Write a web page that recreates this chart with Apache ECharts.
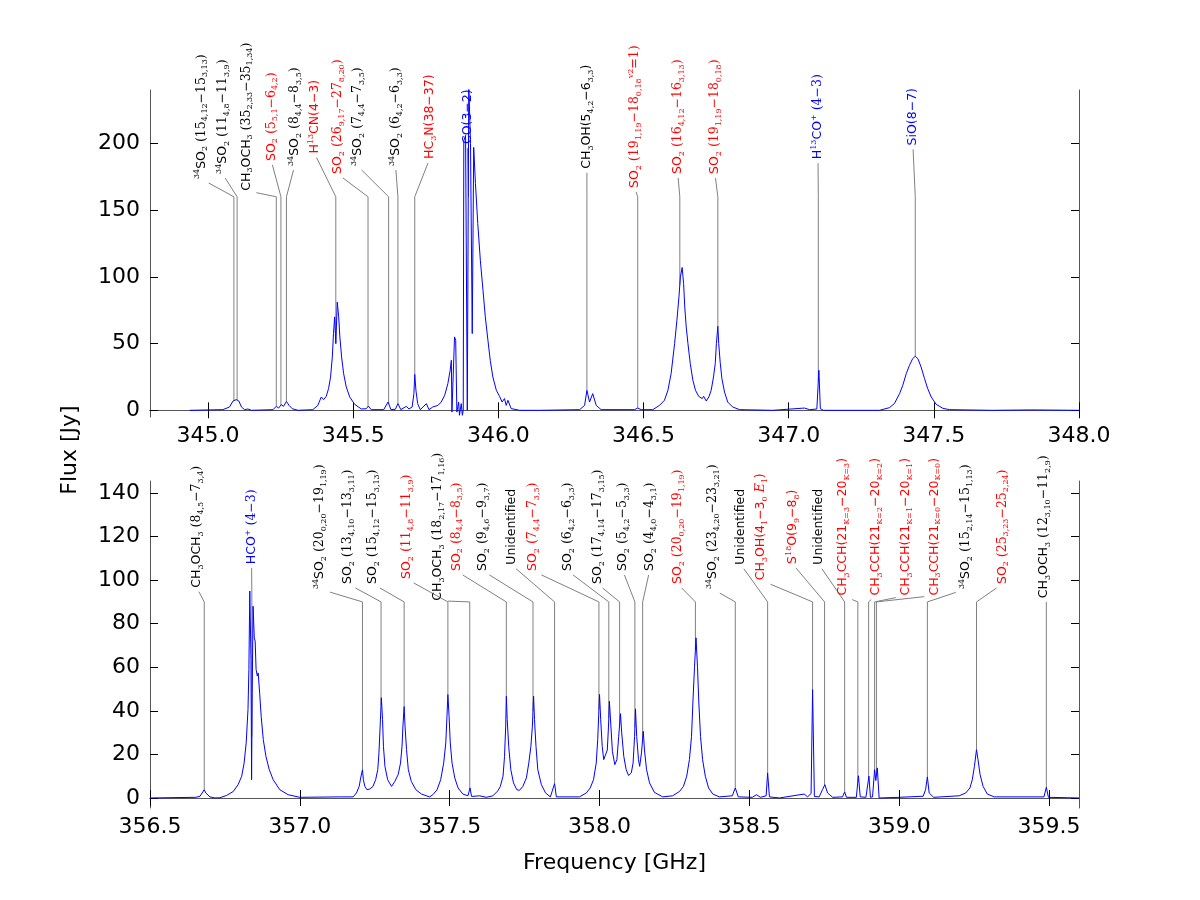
<!DOCTYPE html>
<html>
<head>
<meta charset="utf-8">
<script src="https://cdn.jsdelivr.net/npm/echarts@6/dist/echarts.min.js"></script>
<style>
  html, body { margin: 0; background: #fff; }
  #main { width: 1200px; height: 900px; }
</style>
</head>
<body>
<div id="main"></div>
<script>
// upper band spectrum, [GHz, Jy]
var specTop = [
  [344.937, 0], [345.000, 0.3], [345.051, 0.5], [345.074, 2.5], [345.086, 7], [345.097, 8], [345.106, 7],
  [345.115, 2.5], [345.126, 0.5], [345.137, 1], [345.150, 0], [345.224, 0.5], [345.235, 3], [345.243, 1.7],
  [345.252, 4.2], [345.260, 3], [345.270, 6.7], [345.279, 3.7], [345.290, 1.2], [345.310, 0], [345.361, 0.5],
  [345.378, 3.7], [345.390, 10], [345.398, 8], [345.407, 10.5], [345.415, 16.2], [345.422, 25], [345.428, 40],
  [345.432, 57.5], [345.436, 70], [345.440, 50], [345.445, 81], [345.450, 70], [345.454, 55], [345.460, 40],
  [345.467, 27.5], [345.476, 17.5], [345.488, 10], [345.505, 4.5], [345.528, 1], [345.545, 1.2], [345.552, 3.2],
  [345.562, 0.5], [345.605, 0.5], [345.620, 6.2], [345.630, 0.5], [345.645, 0.8], [345.654, 5], [345.664, 0.5],
  [345.683, 3], [345.692, 1], [345.703, 2.5], [345.709, 12.5], [345.712, 27], [345.716, 15], [345.722, 5],
  [345.731, 0.5], [345.752, 5], [345.761, 0.5], [345.774, 2.5], [345.792, 3.7], [345.803, 6.2], [345.815, 11.2],
  [345.826, 20], [345.834, 30], [345.838, 37.5], [345.840, -1.3], [345.849, 55], [345.853, 52.5], [345.857, -1.3],
  [345.863, 6.2], [345.866, -3.7], [345.872, 5], [345.876, -3.7], [345.879, 0], [345.881, 202], [345.887, 206],
  [345.893, 0], [345.898, 245], [345.904, 200], [345.910, 57.5], [345.915, 197], [345.921, 170], [345.929, 140],
  [345.938, 112], [345.947, 90], [345.955, 70], [345.964, 52.5], [345.972, 37.5], [345.981, 25], [345.993, 15],
  [346.004, 10.5], [346.013, 6.2], [346.021, 8.8], [346.027, 3.7], [346.033, 7.5], [346.044, 1.3], [346.073, 0],
  [346.142, 0], [346.280, 0.5], [346.297, 3.7], [346.305, 15], [346.314, 6.2], [346.325, 12.5], [346.337, 3.7],
  [346.354, 0.5], [346.469, 0.5], [346.480, 1.7], [346.492, 0.5], [346.532, 0.5], [346.555, 3.7], [346.572, 7.5],
  [346.584, 15], [346.595, 27.5], [346.607, 50], [346.615, 67.5], [346.622, 85], [346.627, 100], [346.633, 107],
  [346.638, 95], [346.642, 77.5], [346.647, 62.5], [346.653, 50], [346.661, 35], [346.670, 22.5], [346.679, 15],
  [346.690, 10.5], [346.702, 8.8], [346.707, 10.5], [346.716, 7], [346.725, 10], [346.733, 15], [346.741, 25],
  [346.747, 35], [346.751, 50], [346.756, 63], [346.759, 50], [346.764, 36], [346.770, 23.7], [346.779, 13.7],
  [346.790, 6.2], [346.807, 2.5], [346.831, 0.5], [346.945, 0], [347.054, 1.7], [347.072, 0.5], [347.097, 1],
  [347.104, 30], [347.109, 1.2], [347.120, 0], [347.313, 0], [347.347, 2], [347.364, 5], [347.382, 12.5],
  [347.393, 18.7], [347.405, 27.5], [347.416, 33.7], [347.427, 38.7], [347.436, 40.5], [347.445, 38.7],
  [347.456, 32.5], [347.468, 23.7], [347.479, 16.2], [347.491, 10], [347.508, 4.5], [347.531, 1.5], [347.554, 0.5],
  [347.700, 0], [347.835, 0.3], [347.840, 1.5], [347.845, 0.3], [348.000, 0]
];

// lower band spectrum, [GHz, Jy]
var specLow = [
  [356.500, 0], [356.653, 0.3], [356.667, 0.8], [356.681, 3.8], [356.686, 2.3], [356.692, 2.6], [356.700, 0.5],
  [356.717, 0], [356.733, 0.1], [356.756, 1.2], [356.778, 3], [356.794, 6.1], [356.806, 10], [356.814, 16],
  [356.821, 25.3], [356.827, 40.6], [356.830, 59], [356.833, 95], [356.837, 63.6], [356.839, 8.4], [356.841, 48],
  [356.844, 88], [356.848, 73.5], [356.851, 72], [356.854, 59], [356.858, 56], [356.861, 57.4], [356.866, 48],
  [356.871, 37.5], [356.878, 26.8], [356.887, 19], [356.898, 13], [356.911, 8.4], [356.933, 3.8], [356.961, 1.5],
  [357.000, 0.3], [357.133, 0.5], [357.178, 0.5], [357.189, 2.3], [357.198, 5.3], [357.203, 9.2], [357.209, 13],
  [357.212, 8.4], [357.217, 5.3], [357.224, 3.8], [357.233, 4.1], [357.244, 5.3], [357.253, 8.4], [357.260, 13],
  [357.264, 20.7], [357.268, 33], [357.272, 46], [357.276, 36], [357.279, 23.7], [357.284, 14.5], [357.293, 8.4],
  [357.306, 5.3], [357.317, 7.6], [357.328, 10.7], [357.336, 16], [357.341, 23.7], [357.344, 33], [357.348, 42],
  [357.351, 33], [357.356, 22.2], [357.362, 13], [357.372, 7.6], [357.387, 3.8], [357.406, 1.8], [357.433, 0.5],
  [357.444, 1.5], [357.458, 3.8], [357.470, 8.4], [357.480, 16], [357.487, 25.3], [357.491, 37.5], [357.494, 47.5],
  [357.498, 37.5], [357.502, 25.3], [357.508, 16], [357.517, 9.2], [357.528, 4.6], [357.544, 1.8], [357.561, 1],
  [357.568, 4.6], [357.573, 0.7], [357.600, 1], [357.622, 0.3], [357.644, 1], [357.661, 3.3], [357.669, 5.3],
  [357.678, 10], [357.683, 19], [357.687, 33], [357.689, 46.7], [357.692, 36], [357.697, 23.7], [357.704, 13],
  [357.713, 6.9], [357.724, 3.8], [357.733, 3.5], [357.744, 5.3], [357.756, 9.2], [357.764, 16], [357.771, 23.7],
  [357.776, 33], [357.780, 46.7], [357.783, 36], [357.788, 23.7], [357.794, 13], [357.806, 6.1], [357.820, 2.3],
  [357.836, 0.5], [357.850, 6.6], [357.856, 0.5], [357.933, 0.5], [357.956, 2.3], [357.969, 4.6], [357.980, 8.4],
  [357.989, 16], [357.994, 26.8], [358.000, 47.5], [358.004, 36], [358.009, 23.7], [358.014, 17.6], [358.020, 16.8],
  [358.026, 22], [358.030, 33], [358.033, 44.4], [358.038, 33], [358.043, 21.4], [358.051, 15.3], [358.058, 17.6],
  [358.064, 28.3], [358.070, 38.7], [358.074, 29.9], [358.081, 19.1], [358.089, 13], [358.097, 10.3],
  [358.106, 11.5], [358.112, 16], [358.117, 28.3], [358.120, 40.9], [358.124, 28.3], [358.130, 17.6],
  [358.134, 14.5], [358.140, 20.7], [358.146, 30.6], [358.150, 22], [358.157, 13], [358.167, 6.9], [358.183, 2.6],
  [358.211, 0.5], [358.244, 1], [358.267, 3], [358.280, 5.3], [358.291, 10], [358.300, 17.6], [358.307, 28.3],
  [358.312, 45], [358.317, 60], [358.322, 73.5], [358.327, 60], [358.331, 45], [358.337, 28.3], [358.344, 17.6],
  [358.353, 10], [358.364, 4.6], [358.378, 1.8], [358.400, 0.5], [358.443, 1], [358.453, 4.6], [358.463, 0.5],
  [358.510, 0.3], [358.524, 1.5], [358.537, 0.3], [358.556, 1], [358.561, 11.5], [358.567, 0.5], [358.600, 0],
  [358.683, 1.8], [358.694, 0.5], [358.706, 2], [358.711, 49.8], [358.717, 0.7], [358.733, 0.5], [358.744, 3.8],
  [358.752, 6.1], [358.761, 2.3], [358.778, 0.3], [358.811, 0.5], [358.818, 2.8], [358.824, 0.3], [358.857, 0.3],
  [358.864, 10.2], [358.870, 0.5], [358.889, 0.3], [358.899, 10], [358.904, 0.3], [358.911, 0.5], [358.918, 13],
  [358.922, 8], [358.927, 13.8], [358.933, 0], [359.000, 0.3], [359.080, 0.8], [359.088, 3.8], [359.094, 9.7],
  [359.100, 2.3], [359.115, 0.3], [359.200, 1], [359.222, 2.3], [359.236, 4.6], [359.244, 8.4], [359.251, 14.5],
  [359.258, 22.2], [359.263, 17.6], [359.270, 10.7], [359.280, 5.3], [359.294, 1.8], [359.317, 0.5],
  [359.483, 0.5], [359.491, 4.9], [359.498, 0.3], [359.600, 0]
];

// line identifications: markup _{} sub, ^{} sup, ~ serif on/off, * italic on/off
var lineFreqTop = [345.089, 345.100, 345.235, 345.251, 345.270, 345.440, 345.551, 345.622, 345.654, 345.712,
  345.897, 346.305, 346.480, 346.625, 346.756, 347.102, 347.436];
var labelFreqTop = [344.977, 345.050, 345.132, 345.218, 345.298, 345.367, 345.446, 345.515, 345.646, 345.763,
  345.893, 346.305, 346.470, 346.618, 346.746, 347.101, 347.428];
var labelTop = [
  '^{34}SO_{2}~ (15_{4,12}−15_{3,13})', '^{34}SO_{2}~ (11_{4,8}−11_{3,9})', 'CH_{3}OCH_{3}~ (35_{2,33}−35_{1,34})',
  'SO_{2}~ (5_{5,1}−6_{4,2})', '^{34}SO_{2}~ (8_{4,4}−8_{3,5})', 'H^{13}CN(4−3)', 'SO_{2}~ (26_{9,17}−27_{8,20})',
  '^{34}SO_{2}~ (7_{4,4}−7_{3,5})', '^{34}SO_{2}~ (6_{4,2}−6_{3,3})', 'HC_{3}N(38−37)', 'CO(3−2)',
  'CH_{3}OH(5_{4,2}−6_{3,3})', 'SO_{2}~ (19_{1,19}−18_{0,18}^{v2}=1)', 'SO_{2}~ (16_{4,12}−16_{3,13})',
  'SO_{2}~ (19_{1,19}−18_{0,18})', 'H^{13}CO^{+}~ (4−3)', 'SiO(8−7)'];
var colorTop = ['#000', '#000', '#000', '#f00', '#000', '#f00', '#f00', '#000', '#000', '#f00',
  '#00f', '#000', '#f00', '#f00', '#f00', '#00f', '#00f'];

var lineFreqLow = [356.681, 356.840, 357.209, 357.271, 357.348, 357.494, 357.567, 357.689, 357.778, 357.850,
  357.998, 358.031, 358.067, 358.118, 358.144, 358.320, 358.453, 358.561, 358.711, 358.751,
  358.818, 358.862, 358.898, 358.918, 358.924, 359.094, 359.258, 359.491];
var labelFreqLow = [356.656, 356.839, 357.067, 357.161, 357.244, 357.356, 357.461, 357.522, 357.611, 357.706,
  357.778, 357.894, 357.994, 358.078, 358.167, 358.261, 358.378, 358.472, 358.539, 358.644,
  358.733, 358.811, 358.922, 359.022, 359.117, 359.222, 359.344, 359.483];
var labelLow = [
  'CH_{3}OCH_{3}~ (8_{4,5}−7_{3,4})', 'HCO^{+}~ (4−3)', '^{34}SO_{2}~ (20_{0,20}−19_{1,19})',
  'SO_{2}~ (13_{4,10}−13_{3,11})', 'SO_{2}~ (15_{4,12}−15_{3,13})', 'SO_{2}~ (11_{4,8}−11_{3,9})',
  'CH_{3}OCH_{3}~ (18_{2,17}−17_{1,16})', 'SO_{2}~ (8_{4,4}−8_{3,5})', 'SO_{2}~ (9_{4,6}−9_{3,7})', 'Unidentified',
  'SO_{2}~ (7_{4,4}−7_{3,5})', 'SO_{2}~ (6_{4,2}−6_{3,3})', 'SO_{2}~ (17_{4,14}−17_{3,15})', 'SO_{2}~ (5_{4,2}−5_{3,3})',
  'SO_{2}~ (4_{4,0}−4_{3,1})', 'SO_{2}~ (20_{0,20}−19_{1,19})', '^{34}SO_{2}~ (23_{4,20}−23_{3,21})', 'Unidentified',
  'CH_{3}OH(4_{1}−3_{0} *E*_{1})', 'S^{18}O(9_{9}−8_{8})', 'Unidentified',
  'CH_{3}CCH(21_{K=3}−20_{K=3})', 'CH_{3}CCH(21_{K=2}−20_{K=2})', 'CH_{3}CCH(21_{K=1}−20_{K=1})',
  'CH_{3}CCH(21_{K=0}−20_{K=0})', '^{34}SO_{2}~ (15_{2,14}−15_{1,13})', 'SO_{2}~ (25_{3,23}−25_{2,24})',
  'CH_{3}OCH_{3}~ (12_{3,10}−11_{2,9})'];
var colorLow = ['#000', '#00f', '#000', '#000', '#000', '#f00', '#000', '#f00', '#000', '#000',
  '#f00', '#000', '#000', '#000', '#000', '#f00', '#000', '#000', '#f00', '#f00',
  '#000', '#f00', '#f00', '#f00', '#f00', '#000', '#f00', '#000'];

var xTicksTop = [345.0, 345.5, 346.0, 346.5, 347.0, 347.5, 348.0];
var yTicksTop = [0, 50, 100, 150, 200];
var xTicksLow = [356.5, 357.0, 357.5, 358.0, 358.5, 359.0, 359.5];
var yTicksLow = [0, 20, 40, 60, 80, 100, 120, 140];

var rich = {
  n: { fontFamily: 'DejaVu Sans', fontSize: 12.5, lineHeight: 16 },
  m: { fontFamily: 'DejaVu Serif', fontSize: 12.5, lineHeight: 16 },
  it: { fontFamily: 'DejaVu Serif', fontStyle: 'italic', fontSize: 12.5, lineHeight: 16 },
  sub: { fontFamily: 'DejaVu Serif', fontSize: 8, lineHeight: 9, verticalAlign: 'bottom' },
  sup: { fontFamily: 'DejaVu Serif', fontSize: 8, lineHeight: 9, verticalAlign: 'top' }
};
var fonts = {
  n: '12.5px "DejaVu Sans"', m: '12.5px "DejaVu Serif"', it: 'italic 12.5px "DejaVu Serif"',
  sub: '8px "DejaVu Serif"', sup: '8px "DejaVu Serif"'
};
var ctx = document.createElement('canvas').getContext('2d');

// turn the markup into rich text and measure its length
function prep(s) {
  var segs = [], buf = '', serif = false, ital = false, i = 0;
  function flush() {
    if (buf) segs.push([ital ? 'it' : (serif ? 'm' : 'n'), buf]);
    buf = '';
  }
  while (i < s.length) {
    var c = s[i];
    if ((c === '_' || c === '^') && s[i + 1] === '{') {
      flush();
      var j = s.indexOf('}', i);
      segs.push([c === '_' ? 'sub' : 'sup', s.slice(i + 2, j)]);
      i = j + 1;
    } else if (c === '~') { flush(); serif = !serif; i++; }
    else if (c === '*') { flush(); ital = !ital; i++; }
    else { buf += c; i++; }
  }
  flush();
  var text = '', len = 0;
  segs.forEach(function (g) {
    text += '{' + g[0] + '|' + g[1] + '}';
    ctx.font = fonts[g[0]];
    len += ctx.measureText(g[1]).width;
  });
  return { text: text, len: len };
}

// flux of the spectrum at f, for the foot of a marker line
function fluxAt(spec, f) {
  for (var k = 1; k < spec.length; k++) {
    if (spec[k][0] >= f) {
      var a = spec[k - 1], b = spec[k];
      return a[1] + (b[1] - a[1]) * (f - a[0]) / (b[0] - a[0]);
    }
  }
  return spec[spec.length - 1][1];
}

function markers(xi, yi, spec, lineFreq, labelFreq, labels, colors, lineTop, labelMid) {
  var texts = labels.map(prep);
  return {
    type: 'custom',
    xAxisIndex: xi,
    yAxisIndex: yi,
    animation: false,
    silent: true,
    data: lineFreq.map(function (f, i) { return [f, labelFreq[i], i]; }),
    renderItem: function (params, api) {
      var i = api.value(2), f = api.value(0);
      var p0 = api.coord([f, fluxAt(spec, f)]);
      var p1 = api.coord([f, lineTop]);
      var c = api.coord([api.value(1), labelMid]);
      // connector runs toward the foot of the label and stops at its box
      var ax = c[0], ay = c[1] + texts[i].len / 2;
      var x0 = ax - 10, x1 = ax + 10, y1 = ay + 4;
      var dx = ax - p1[0], dy = ay - p1[1], t = 0;
      if (p1[1] > y1) t = Math.max(t, (y1 - p1[1]) / dy);
      if (p1[0] > x1) t = Math.max(t, (x1 - p1[0]) / dx);
      else if (p1[0] < x0) t = Math.max(t, (x0 - p1[0]) / dx);
      var p2 = [p1[0] + t * dx, p1[1] + t * dy];
      return {
        type: 'group',
        children: [{
          type: 'polyline',
          shape: { points: [p0, p1, p2] },
          style: { stroke: '#808080', lineWidth: 1, fill: null }
        }, {
          type: 'text',
          x: c[0], y: c[1],
          rotation: Math.PI / 2,
          style: { text: texts[i].text, rich: rich, fill: colors[i], align: 'center', verticalAlign: 'middle' }
        }]
      };
    }
  };
}

var frame = { show: true, lineStyle: { color: '#555', width: 1 } };
var tickStyle = { lineStyle: { color: '#000', width: 1 } };
var labelFont = { fontFamily: 'DejaVu Sans', fontSize: 22, color: '#000' };

function xAx(grid, min, max, ticks, pos, withLabel) {
  return {
    type: 'value', gridIndex: grid, min: min, max: max, position: pos,
    axisLine: frame, splitLine: { show: false },
    axisTick: Object.assign({ inside: true, length: 8, customValues: ticks }, tickStyle),
    axisLabel: Object.assign({ show: withLabel, margin: 8, customValues: ticks,
      formatter: function (v) { return v.toFixed(1); } }, labelFont)
  };
}
function yAx(grid, min, max, ticks, pos, withLabel) {
  return {
    type: 'value', gridIndex: grid, min: min, max: max, position: pos,
    axisLine: frame, splitLine: { show: false },
    axisTick: Object.assign({ inside: true, length: 8, customValues: ticks }, tickStyle),
    axisLabel: Object.assign({ show: withLabel, margin: 10, customValues: ticks }, labelFont)
  };
}

var chart = echarts.init(document.getElementById('main'), null, { renderer: 'canvas' });
var xBottom = xAx(1, 356.5, 359.6, xTicksLow, 'bottom', true);
xBottom.name = 'Frequency [GHz]';
xBottom.nameLocation = 'middle';
xBottom.nameGap = 44;
xBottom.nameTextStyle = { fontFamily: 'DejaVu Sans', fontSize: 22, color: '#000' };

chart.setOption({
  animation: false,
  backgroundColor: '#fff',
  grid: [
    { left: 150, right: 121, top: 90, height: 327 },
    { left: 150, right: 121, top: 481, height: 327 }
  ],
  xAxis: [
    xAx(0, 344.8, 348.0, xTicksTop, 'bottom', true),
    xAx(0, 344.8, 348.0, xTicksTop, 'top', false),
    xBottom,
    xAx(1, 356.5, 359.6, xTicksLow, 'top', false)
  ],
  yAxis: [
    yAx(0, -5, 240, yTicksTop, 'left', true),
    yAx(0, -5, 240, yTicksTop, 'right', false),
    yAx(1, -4.6, 145.5, yTicksLow, 'left', true),
    yAx(1, -4.6, 145.5, yTicksLow, 'right', false)
  ],
  graphic: [{
    type: 'text', x: 70, y: 450, rotation: Math.PI / 2,
    style: { text: 'Flux [Jy]', fontFamily: 'DejaVu Sans', fontSize: 22, fill: '#000', align: 'center', verticalAlign: 'middle' }
  }],
  series: [
    markers(0, 0, specTop, lineFreqTop, labelFreqTop, labelTop, colorTop, 160, 220),
    markers(2, 2, specLow, lineFreqLow, labelFreqLow, labelLow, colorLow, 90, 124.5),
    {
      type: 'line', xAxisIndex: 0, yAxisIndex: 0, data: specTop,
      showSymbol: false, symbol: 'none', clip: true,
      lineStyle: { color: '#0000ff', width: 1 }
    },
    {
      type: 'line', xAxisIndex: 2, yAxisIndex: 2, data: specLow,
      showSymbol: false, symbol: 'none', clip: true,
      lineStyle: { color: '#0000ff', width: 1 }
    }
  ]
});
</script>
</body>
</html>
